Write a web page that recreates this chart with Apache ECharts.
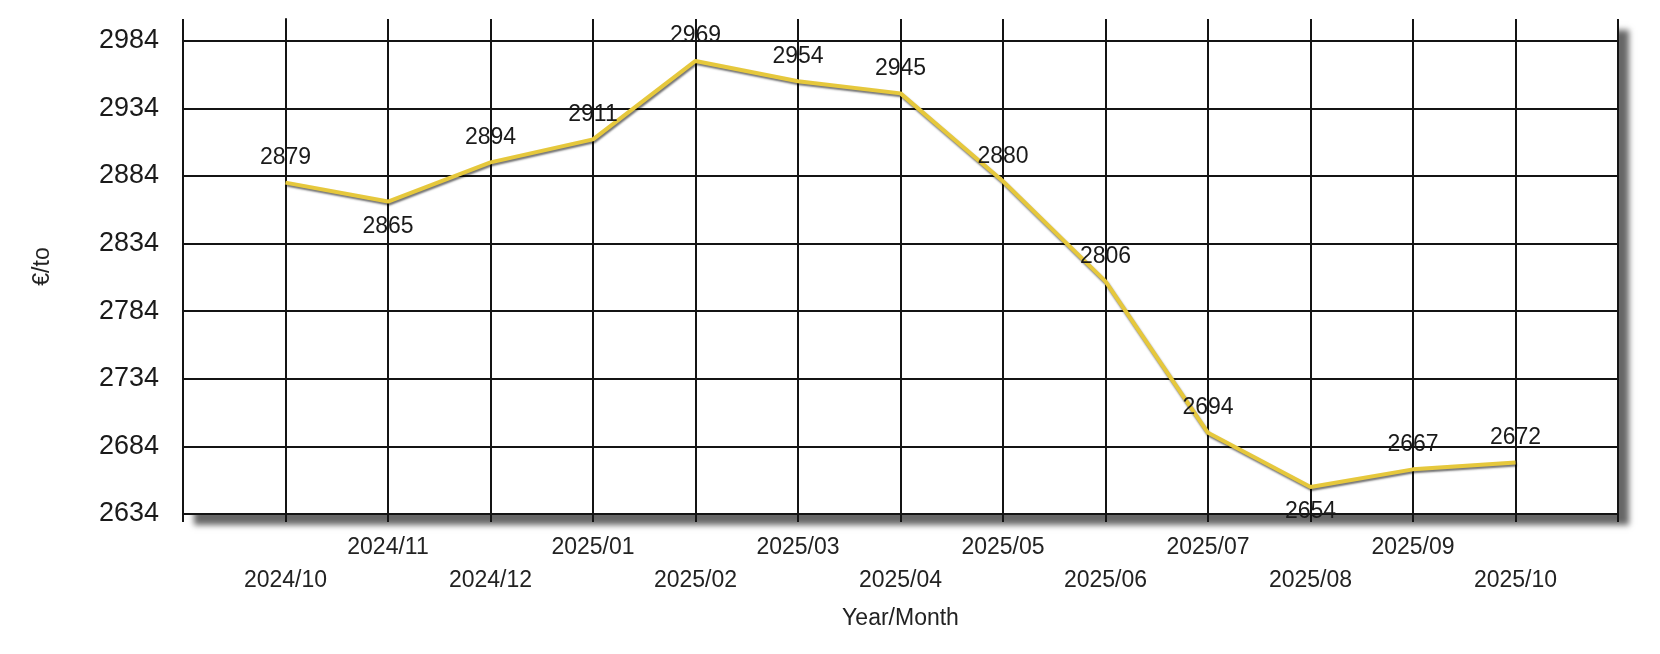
<!DOCTYPE html>
<html>
<head>
<meta charset="utf-8">
<script src="https://cdn.jsdelivr.net/npm/echarts@6/dist/echarts.min.js"></script>
<style>
html,body{margin:0;padding:0;background:#fff;}
#chart{width:1660px;height:654px;}
</style>
</head>
<body>
<div id="chart"></div>
<script>
const months = ['2024/10','2024/11','2024/12','2025/01','2025/02','2025/03','2025/04','2025/05','2025/06','2025/07','2025/08','2025/09','2025/10'];
const prices = [2879,2865,2894,2911,2969,2954,2945,2880,2806,2694,2654,2667,2672];
const yTicks = [2634,2684,2734,2784,2834,2884,2934,2984];
const labelsBelow = ['2024/11','2025/08'];
const yAxisName = '€/to';
const xAxisName = 'Year/Month';

const SANS = "'Liberation Sans',Arial,sans-serif";
const gridColor = '#141414';

const chart = echarts.init(document.getElementById('chart'), null, {renderer:'canvas'});
chart.setOption({
  animation:false,
  backgroundColor:'#ffffff',
  grid:{
    left:183, right:42, top:19, bottom:140,
    show:true, backgroundColor:'#ffffff', borderWidth:0,
    shadowColor:'rgba(0,0,0,0.6)', shadowBlur:6, shadowOffsetX:11, shadowOffsetY:11
  },
  xAxis:{
    type:'value', min:-1, max:months.length, interval:1,
    name:xAxisName, nameLocation:'middle', nameGap:93,
    nameTextStyle:{fontFamily:SANS, fontSize:23, color:'#222'},
    axisLine:{show:true, onZero:false, lineStyle:{color:gridColor, width:2}},
    axisTick:{show:true, length:8, lineStyle:{color:gridColor, width:2}},
    splitLine:{show:true, lineStyle:{color:gridColor, width:2}},
    axisLabel:{
      margin:17, fontFamily:SANS, fontSize:23, color:'#222', lineHeight:33,
      showMinLabel:true, showMaxLabel:true,
      formatter:function(v){
        if (v < 0 || v >= months.length) return '';
        return v % 2 === 0 ? '\n' + months[v] : months[v];
      }
    }
  },
  yAxis:{
    type:'value', min:yTicks[0], max:3000, interval:50,
    name:yAxisName, nameLocation:'middle', nameGap:129,
    nameTextStyle:{fontFamily:SANS, fontSize:23, color:'#222'},
    axisLine:{show:true, lineStyle:{color:gridColor, width:2}},
    axisTick:{show:true, length:17, customValues:yTicks, lineStyle:{color:gridColor, width:2}},
    splitLine:{show:true, lineStyle:{color:gridColor, width:2}},
    axisLabel:{
      margin:24, fontFamily:SANS, fontSize:27, color:'#1a1a1a',
      customValues:yTicks,
      formatter:function(v){ return String(v); }
    }
  },
  series:[{
    type:'line',
    data:prices.map(function(v,i){
      return {value:[i,v], label:{position: labelsBelow.indexOf(months[i]) >= 0 ? 'bottom' : 'top'}};
    }),
    symbol:'circle', symbolSize:1, showSymbol:true,
    itemStyle:{color:'rgba(0,0,0,0)'},
    lineStyle:{color:'#e6c83c', width:4, shadowColor:'rgba(0,0,0,0.55)', shadowBlur:2, shadowOffsetX:1, shadowOffsetY:2},
    label:{show:true, distance:13, fontFamily:SANS, fontSize:23, color:'#1a1a1a'},
    z:5
  }]
});
</script>
</body>
</html>
